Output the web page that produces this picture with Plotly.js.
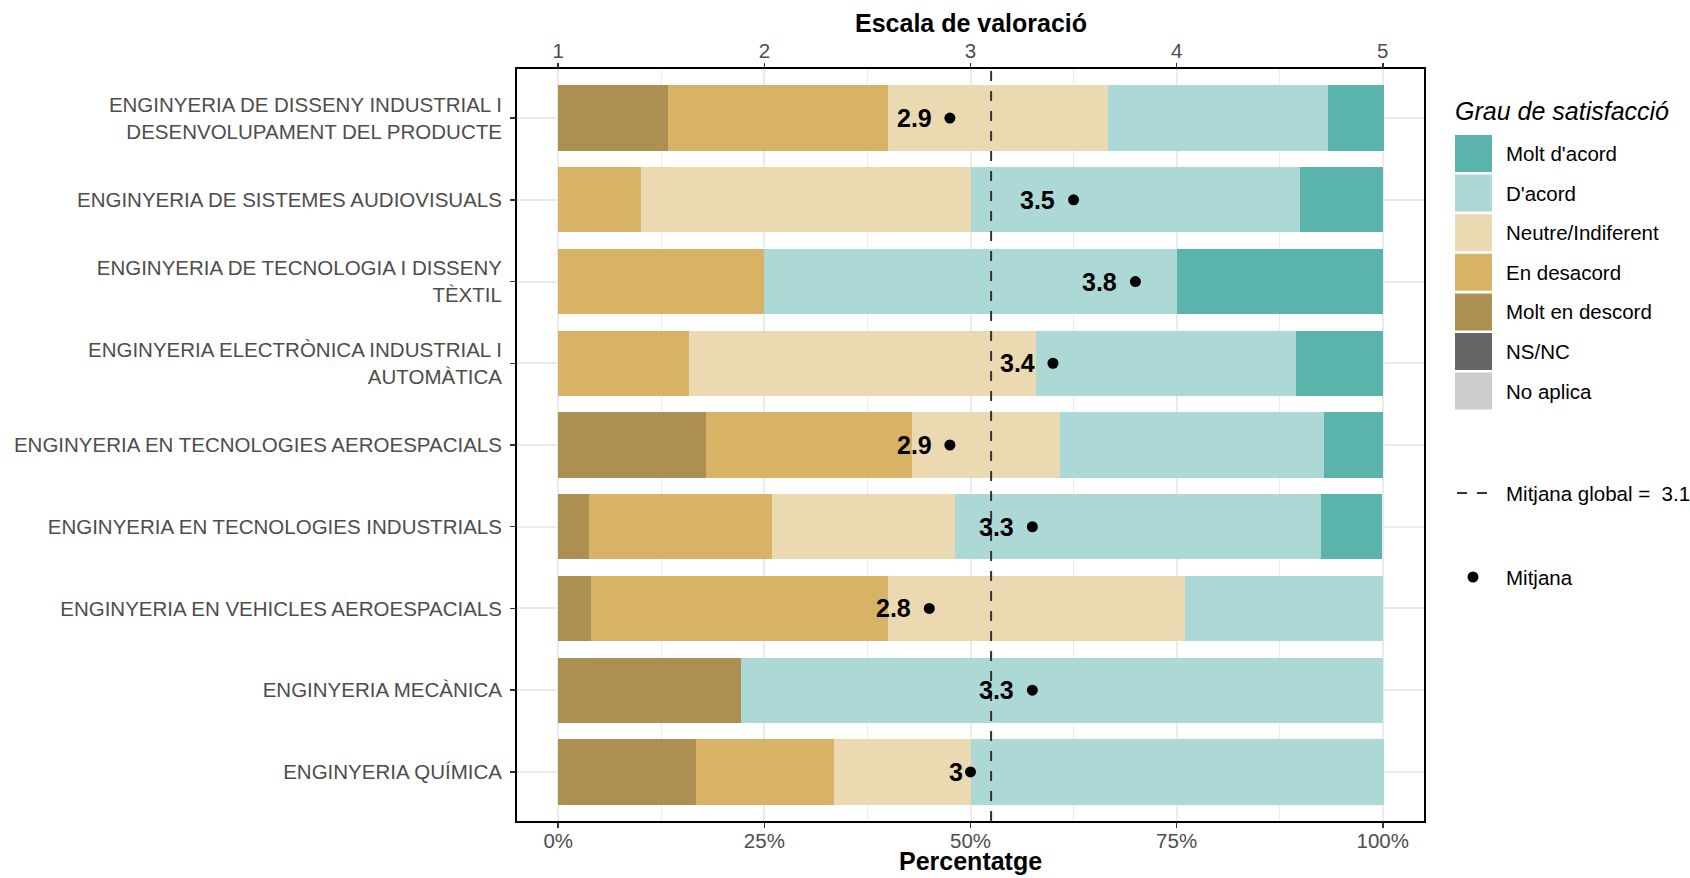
<!DOCTYPE html>
<html>
<head>
<meta charset="utf-8">
<script src="https://cdn.plot.ly/plotly-3.0.1.min.js"></script>
<style>html,body{margin:0;padding:0;background:#fff;}#chart{width:1690px;height:878px;}</style>
</head>
<body>
<div id="chart"></div>
<script>
// ---------- DATA ----------
const categories = [
  "ENGINYERIA DE DISSENY INDUSTRIAL I<br>DESENVOLUPAMENT DEL PRODUCTE",
  "ENGINYERIA DE SISTEMES AUDIOVISUALS",
  "ENGINYERIA DE TECNOLOGIA I DISSENY<br>TÈXTIL",
  "ENGINYERIA ELECTRÒNICA INDUSTRIAL I<br>AUTOMÀTICA",
  "ENGINYERIA EN TECNOLOGIES AEROESPACIALS",
  "ENGINYERIA EN TECNOLOGIES INDUSTRIALS",
  "ENGINYERIA EN VEHICLES AEROESPACIALS",
  "ENGINYERIA MECÀNICA",
  "ENGINYERIA QUÍMICA"
];
const moltDescord = [13.3, 0, 0, 0, 17.9, 3.7, 4.0, 22.2, 16.7];
const enDesacord  = [26.7, 10.0, 25.0, 15.8, 25.0, 22.2, 36.0, 0, 16.7];
const neutre      = [26.7, 40.0, 0, 42.1, 17.9, 22.2, 36.0, 0, 16.7];
const dAcord      = [26.7, 40.0, 50.0, 31.6, 32.1, 44.4, 24.0, 77.8, 50.0];
const moltDAcord  = [6.7, 10.0, 25.0, 10.5, 7.1, 7.4, 0, 0, 0];
const mitjana     = [2.9, 3.5, 3.8, 3.4, 2.9, 3.3, 2.8, 3.3, 3.0];
const mitjanaGlobal = 3.1;

const pctTicks = [0, 25, 50, 75, 100];
const pctLabels = ["0%", "25%", "50%", "75%", "100%"];
const scaleTicks = [1, 2, 3, 4, 5];

const legendNames = ["Molt d'acord", "D'acord", "Neutre/Indiferent", "En desacord", "Molt en descord", "NS/NC", "No aplica"];
const legendColors = ["#5AB4AC", "#ACD9D5", "#EBD9B2", "#D8B365", "#AD8F51", "#666666", "#CCCCCC"];

// ---------- STYLE ----------
const FONT = "Liberation Sans, Arial, sans-serif";
const colorOf = {};
legendNames.forEach((n, i) => colorOf[n] = legendColors[i]);

const W = 1690, H = 878;
const M = {l: 517, r: 266, t: 69, b: 57};
const plotW = W - M.l - M.r, plotH = H - M.t - M.b;
const px = x => (x - M.l) / plotW;
const py = y => (H - M.b - y) / plotH;

// bars, left to right
const stackOrder = [
  ["Molt en descord", moltDescord],
  ["En desacord", enDesacord],
  ["Neutre/Indiferent", neutre],
  ["D'acord", dAcord],
  ["Molt d'acord", moltDAcord]
];
const traces = stackOrder.map(([name, vals]) => ({
  type: "bar", orientation: "h", name: name,
  x: vals, y: categories, xaxis: "x", yaxis: "y",
  marker: {color: colorOf[name], line: {width: 0}},
  hoverinfo: "skip", showlegend: false
}));

traces.push({
  type: "scatter", mode: "markers", x: mitjana, y: categories,
  xaxis: "x2", yaxis: "y",
  marker: {color: "#000", size: 11},
  hoverinfo: "skip", showlegend: false
});

// measure text to mimic hjust = 1.5
const LBL = 25;
const cv = document.createElement("canvas").getContext("2d");
cv.font = "bold " + LBL + "px 'Liberation Sans'";
const annotations = mitjana.map((v, i) => {
  const t = String(v);
  const w = cv.measureText(t).width;
  return {
    xref: "x2", yref: "y", x: v, y: categories[i],
    text: "<b>" + t + "</b>", showarrow: false,
    xanchor: "right", yanchor: "middle", xshift: -0.5 * w + 1,
    font: {family: FONT, size: LBL, color: "#000"}
  };
});

// axis titles
annotations.push({
  xref: "paper", yref: "paper", x: 0.5, y: py(23.5), xanchor: "center", yanchor: "middle",
  text: "<b>Escala de valoració</b>", showarrow: false, borderpad: 0,
  font: {family: FONT, size: 25, color: "#000"}
});
annotations.push({
  xref: "paper", yref: "paper", x: 0.5, y: py(861.5), xanchor: "center", yanchor: "middle",
  text: "<b>Percentatge</b>", showarrow: false, borderpad: 0,
  font: {family: FONT, size: 25, color: "#000"}
});

const shapes = [{
  type: "line", xref: "x2", yref: "paper", x0: mitjanaGlobal, x1: mitjanaGlobal, y0: 0, y1: 1,
  line: {color: "#333333", width: 2, dash: "10px,10px"}, layer: "above"
}];

// custom legend
const LEG = 20.5;
annotations.push({
  xref: "paper", yref: "paper", x: px(1453), y: py(111), xanchor: "left", yanchor: "middle",
  text: "<i>Grau de satisfacció</i>", showarrow: false,
  font: {family: FONT, size: 25, color: "#000"}
});
legendNames.forEach((n, i) => {
  const top = 135 + i * 39.6;
  shapes.push({
    type: "rect", xref: "paper", yref: "paper",
    x0: px(1455), x1: px(1492), y0: py(top + 37), y1: py(top),
    fillcolor: legendColors[i], line: {width: 0}
  });
  annotations.push({
    xref: "paper", yref: "paper", x: px(1504), y: py(top + 18.5), xanchor: "left", yanchor: "middle",
    text: n, showarrow: false, font: {family: FONT, size: LEG, color: "#000"}
  });
});
shapes.push({
  type: "line", xref: "paper", yref: "paper", x0: px(1457), x1: px(1489), y0: py(493), y1: py(493),
  line: {color: "#333333", width: 2, dash: "10px,10px"}
});
annotations.push({
  xref: "paper", yref: "paper", x: px(1504), y: py(493), xanchor: "left", yanchor: "middle",
  text: "Mitjana global =  " + mitjanaGlobal, showarrow: false, font: {family: FONT, size: LEG, color: "#000"}
});
shapes.push({
  type: "circle", xref: "paper", yref: "paper", x0: px(1467.5), x1: px(1478.5), y0: py(582.5), y1: py(571.5),
  fillcolor: "#000", line: {width: 0}
});
annotations.push({
  xref: "paper", yref: "paper", x: px(1504), y: py(577), xanchor: "left", yanchor: "middle",
  text: "Mitjana", showarrow: false, font: {family: FONT, size: LEG, color: "#000"}
});

const TICKF = {family: FONT, size: 20.5, color: "#4D4D4D"};
const layout = {
  width: W, height: H,
  margin: M,
  paper_bgcolor: "#fff", plot_bgcolor: "#fff",
  barmode: "stack", bargap: 0.2,
  showlegend: false,
  font: {family: FONT},
  xaxis: {
    range: [-5, 105], tickvals: pctTicks, ticktext: pctLabels,
    ticks: "outside", ticklen: 5, tickwidth: 1.5, tickcolor: "#333333",
    tickfont: TICKF, ticklabelstandoff: -5,
    showgrid: true, gridcolor: "#EBEBEB", gridwidth: 2,
    minor: {tickvals: [12.5, 37.5, 62.5, 87.5], showgrid: true, gridcolor: "#EBEBEB", gridwidth: 1, ticks: ""},
    zeroline: false, showline: true, linecolor: "#000", linewidth: 2, mirror: true,
    fixedrange: true
  },
  xaxis2: {
    overlaying: "x", side: "top", anchor: "y",
    range: [0.8, 5.2], tickvals: scaleTicks,
    ticks: "outside", ticklen: 5, tickwidth: 1.5, tickcolor: "#333333",
    tickfont: TICKF, ticklabelstandoff: -3,
    showgrid: false, zeroline: false, showline: false,
    fixedrange: true
  },
  yaxis: {
    type: "category", categoryorder: "array", categoryarray: categories,
    range: [categories.length - 0.4, -0.6],
    ticks: "outside", ticklen: 5, tickwidth: 1.5, tickcolor: "#333333",
    tickfont: TICKF, ticklabelstandoff: 4,
    showgrid: true, gridcolor: "#EBEBEB", gridwidth: 2,
    zeroline: false, showline: true, linecolor: "#000", linewidth: 2, mirror: true,
    fixedrange: true
  },
  shapes: shapes,
  annotations: annotations
};

Plotly.newPlot("chart", traces, layout, {staticPlot: true, displayModeBar: false});
</script>
</body>
</html>
